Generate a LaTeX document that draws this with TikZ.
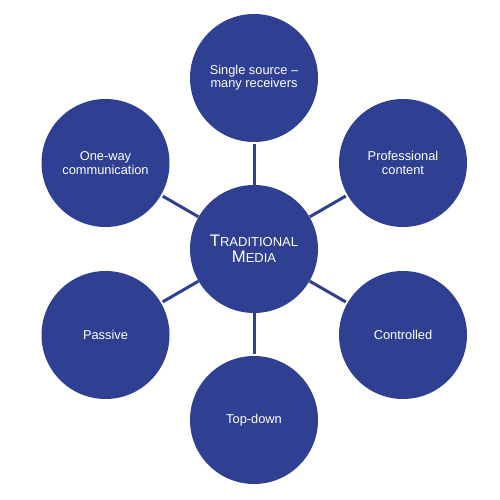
\documentclass[tikz,border=0pt]{standalone}
\usepackage{fontspec}
\setmainfont{Liberation Sans}
\usepackage{tikz}
\definecolor{mediablue}{HTML}{2F3F92}

\begin{document}
\begin{tikzpicture}[
	bubble/.style={circle, fill=mediablue, text=white, minimum size=2.56cm, inner sep=0pt, align=center, font=\fontsize{7.3}{7.6}\selectfont},
	spoke/.style={draw=mediablue, line width=1.7pt, shorten >=1pt}
	]
	\useasboundingbox (0,0) rectangle (10,10);

	\node [bubble, font=\fontsize{9.5}{9}\selectfont] (M) at (5.08,5.02) {T{\fontsize{7.4}{9}\selectfont RADITIONAL}\\M{\fontsize{7.4}{9}\selectfont EDIA}};

	\node [bubble] (S) at (5.08,8.44) {Single source --\\many receivers};
	\node [bubble] (P) at (8.06,6.74) {Professional\\content};
	\node [bubble] (C) at (8.06,3.30) {Controlled};
	\node [bubble] (D) at (5.08,1.60) {Top-down};
	\node [bubble] (A) at (2.11,3.30) {Passive};
	\node [bubble] (O) at (2.11,6.74) {One-way\\communication};

	\draw [spoke] (M) -- (S);
	\draw [spoke] (M) -- (P);
	\draw [spoke] (M) -- (C);
	\draw [spoke] (M) -- (D);
	\draw [spoke] (M) -- (A);
	\draw [spoke] (M) -- (O);

\end{tikzpicture}
\end{document}
